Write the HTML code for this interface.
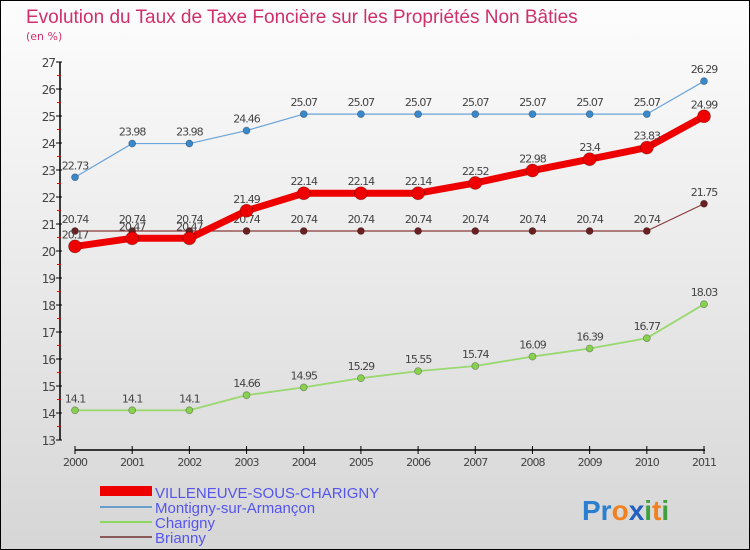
<!DOCTYPE html>
<html><head><meta charset="utf-8"><style>
body{margin:0;width:750px;height:550px;overflow:hidden;font-family:"DejaVu Sans","Liberation Sans",sans-serif}
#c{position:absolute;left:0;top:0;width:748px;height:548px;border:1px solid #000;background:linear-gradient(#fdfdfd,#d6d6d6)}
</style></head><body>
<div id="c"></div>
<svg id="s" width="750" height="550" style="position:absolute;left:0;top:0">
<text x="26" y="23" font-size="19" fill="#d0306a" font-family="Liberation Sans,sans-serif">Evolution du Taux de Taxe Foncière sur les Propriétés Non Bâties</text>
<text x="26" y="40" font-size="11" fill="#d0306a">(en %)</text>
<g id="axes"></g><g id="series"></g>
<g font-size="15" fill="#5555ee" font-family="Liberation Sans,sans-serif">
<rect x="100" y="486" width="52" height="10" fill="#e00"/>
<text x="155" y="498">VILLENEUVE-SOUS-CHARIGNY</text>
<rect x="100" y="506" width="52" height="2" fill="#6a9ccc"/>
<text x="155" y="513">Montigny-sur-Armançon</text>
<rect x="100" y="521" width="52" height="2" fill="#8fd860"/>
<text x="155" y="528">Charigny</text>
<rect x="100" y="536" width="52" height="2" fill="#8a5a5a"/>
<text x="155" y="543">Brianny</text>
</g>
<text x="582" y="520" font-size="28" font-weight="bold" font-family="Liberation Sans,sans-serif"><tspan fill="#2a7fd0">Pr</tspan><tspan fill="#f08020">o</tspan><tspan fill="#2060c0">x</tspan><tspan fill="#40a040">i</tspan><tspan fill="#f08020">t</tspan><tspan fill="#40a040">i</tspan></text>
</svg>
<script>
const years=[2000,2001,2002,2003,2004,2005,2006,2007,2008,2009,2010,2011];
const yTicks=[13,14,15,16,17,18,19,20,21,22,23,24,25,26,27];
const villeneuve=[20.17,20.47,20.47,21.49,22.14,22.14,22.14,22.52,22.98,23.4,23.83,24.99];
const montigny=[22.73,23.98,23.98,24.46,25.07,25.07,25.07,25.07,25.07,25.07,25.07,26.29];
const charigny=[14.1,14.1,14.1,14.66,14.95,15.29,15.55,15.74,16.09,16.39,16.77,18.03];
const brianny=[20.74,20.74,20.74,20.74,20.74,20.74,20.74,20.74,20.74,20.74,20.74,21.75];
const NS="http://www.w3.org/2000/svg";
const xs=i=>75+i*(704-75)/(years.length-1);
const ys=v=>440-(v-13)*27;
function mk(t,a,p){const e=document.createElementNS(NS,t);for(const k in a)e.setAttribute(k,a[k]);p.appendChild(e);return e;}
const ax=document.getElementById('axes');
const yl=mk('line',{x1:60,y1:ys(27),x2:60,y2:ys(13),stroke:'#000','stroke-width':1.5},ax);


yTicks.forEach(v=>{
 mk('line',{x1:56,y1:ys(v),x2:62,y2:ys(v),stroke:'#000'},ax);
 if(v<27)mk('line',{x1:57,y1:ys(v+0.5),x2:61,y2:ys(v+0.5),stroke:'#e00'},ax);
 const t=mk('text',{x:55,y:ys(v)+5,'text-anchor':'end','font-size':12,fill:'#444','letter-spacing':'-1'},ax);
 
 
 t.textContent=v;
});
const xl=mk('line',{x1:75,y1:450,x2:705,y2:450,stroke:'#000','stroke-width':1.5},ax);


years.forEach((y,i)=>{
 mk('line',{x1:xs(i),y1:446,x2:xs(i),y2:454,stroke:'#000'},ax);
 const t=mk('text',{x:xs(i),y:466,'text-anchor':'middle','font-size':11,fill:'#444','letter-spacing':'-1'},ax);
 
 
 t.textContent=y;
});
const sg=document.getElementById('series');
function draw(vals,name,col,w,r,dot){
 const g=mk('g',{},sg);
 
 
 const pl=mk('polyline',{points:vals.map((v,i)=>xs(i)+','+ys(v)).join(' '),fill:'none',stroke:col,'stroke-width':w,'stroke-linejoin':'round'},g);
 
 
 vals.forEach((v,i)=>{
  const c=mk('circle',{cx:xs(i),cy:ys(v),r:r,fill:dot,stroke:'rgba(0,0,0,0.3)','stroke-width':0.8},g);
  
  
  const t=mk('text',{x:xs(i),y:ys(v)-8,'text-anchor':'middle','font-size':11,fill:'#444','letter-spacing':'-1'},g);
  
  
  t.textContent=v;
 });
}
draw(brianny,'brianny','#8a3a3a',1.2,3.5,'#6a2020');
draw(charigny,'charigny','#9ad870',1.8,3.5,'#8ad050');
draw(montigny,'montigny','#6aa4d8',1.2,3.5,'#3a88cc');
draw(villeneuve,'villeneuve','#ee0000',7,6.5,'#ee0000');
</script>
</body></html>
